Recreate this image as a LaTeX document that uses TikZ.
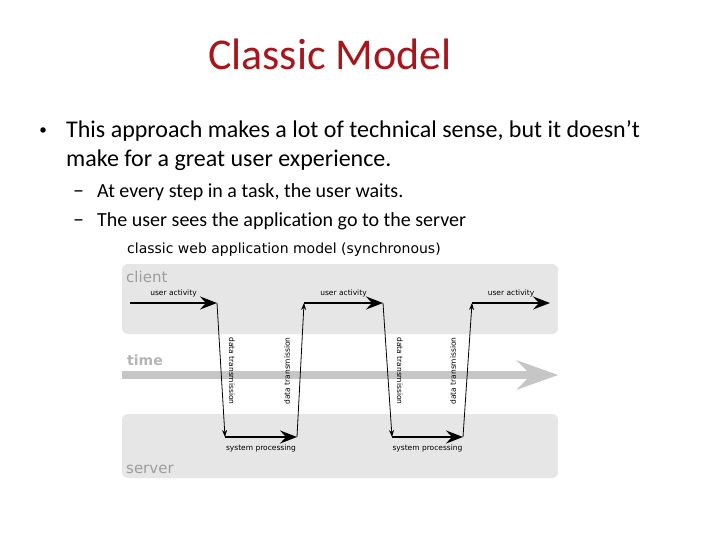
\documentclass[tikz,border=0pt]{standalone}
\usepackage{fontspec}
\setmainfont{Carlito}[Ligatures=NoCommon]
\newfontfamily\diagfont{DejaVu Sans}
\usetikzlibrary{arrows.meta,positioning}
\definecolor{TitleRed}{HTML}{A8161C}
\definecolor{BandGray}{HTML}{E6E6E6}
\definecolor{LaneText}{HTML}{9C9C9C}
\definecolor{TimeGray}{HTML}{C6C6C6}
\definecolor{TimeText}{HTML}{B4B4B4}

\begin{document}
\begin{tikzpicture}[x=1pt,y=-1pt,
    band/.style={fill=BandGray,rounded corners=6pt,minimum width=436pt,inner sep=0pt},
    lane/.style={font=\diagfont\fontsize{15}{15}\selectfont,text=LaneText,anchor=base west,inner sep=0pt},
    tiny/.style={font=\diagfont\fontsize{7.5}{8}\selectfont,inner sep=1pt},
    slide/.style={anchor=base west,inner sep=0pt},
    flow/.style={line width=2.6pt,-{Stealth[length=17pt,width=13pt,inset=6pt]}},
    hop/.style={line width=0.8pt,-{Stealth[length=7pt,width=5pt]}}]
  \useasboundingbox[fill=white] (0,0) rectangle (720,540);

  % slide text
  \node[anchor=base,inner sep=0pt,text=TitleRed,font=\fontsize{44}{52}\selectfont] (title) at (330,70) {Classic Model};
  \node[circle,fill,inner sep=0pt,minimum size=5.5pt] (dot) at (43,130) {};
  \node[slide,font=\fontsize{24}{29}\selectfont] (p1) at (66,138) {This approach makes a lot of technical sense, but it doesn't};
  \node[slide,font=\fontsize{24}{29}\selectfont] (p2) at (66,167) {make for a great user experience.};
  \node[slide,font=\fontsize{22}{24}\selectfont] (d1) at (73,197) {--};
  \node[slide,font=\fontsize{20}{24}\selectfont] (q1) at (97,197) {At every step in a task, the user waits.};
  \node[slide,font=\fontsize{22}{24}\selectfont] (d2) at (73,226) {--};
  \node[slide,font=\fontsize{20}{24}\selectfont] (q2) at (97,226) {The user sees the application go to the server};

  % diagram
  \node[slide,font=\diagfont\fontsize{14}{14}\selectfont] (dtitle) at (127,253) {classic web application model (synchronous)};
  \node[band,minimum height=70pt] (clientband) at (340,299) {};
  \node[band,minimum height=64pt] (serverband) at (340,446) {};
  \node[lane] (client) at (126,282) {client};
  \node[lane] (server) at (126,473) {server};
  \node[lane,text=TimeText,font=\diagfont\bfseries\fontsize{14}{14}\selectfont] (time) at (127,365) {time};
  \fill[TimeGray] (122,371) rectangle (531,379);
  \fill[TimeGray] (516,360) -- (558,375) -- (516,390) -- (531,375) -- cycle;

  \coordinate (c0) at (130,303);
  \coordinate (c1) at (217,303);
  \coordinate (s1) at (225,437);
  \coordinate (s2) at (297,437);
  \coordinate (c2) at (304,303);
  \coordinate (c3) at (383,303);
  \coordinate (s3) at (392,437);
  \coordinate (s4) at (463,437);
  \coordinate (c4) at (472,303);
  \coordinate (c5) at (550,303);

  \draw[flow] (c0) -- node[tiny,above=4pt] (ua1) {user activity} (c1);
  \draw[flow] (c2) -- node[tiny,above=4pt] (ua2) {user activity} (c3);
  \draw[flow] (c4) -- node[tiny,above=4pt] (ua3) {user activity} (c5);
  \draw[flow] (s1) -- node[tiny,below=5pt] (sp1) {system processing} (s2);
  \draw[flow] (s3) -- node[tiny,below=5pt] (sp2) {system processing} (s4);
  \draw[hop] (c1) -- (s1);
  \draw[hop] (s2) -- (c2);
  \draw[hop] (c3) -- (s3);
  \draw[hop] (s4) -- (c4);

  \node[tiny,rotate=-90] (dt1) at (232,371) {data transmission};
  \node[tiny,rotate=90] (dt2) at (287,371) {data transmission};
  \node[tiny,rotate=-90] (dt3) at (400,371) {data transmission};
  \node[tiny,rotate=90] (dt4) at (453,371) {data transmission};
\end{tikzpicture}
\end{document}
